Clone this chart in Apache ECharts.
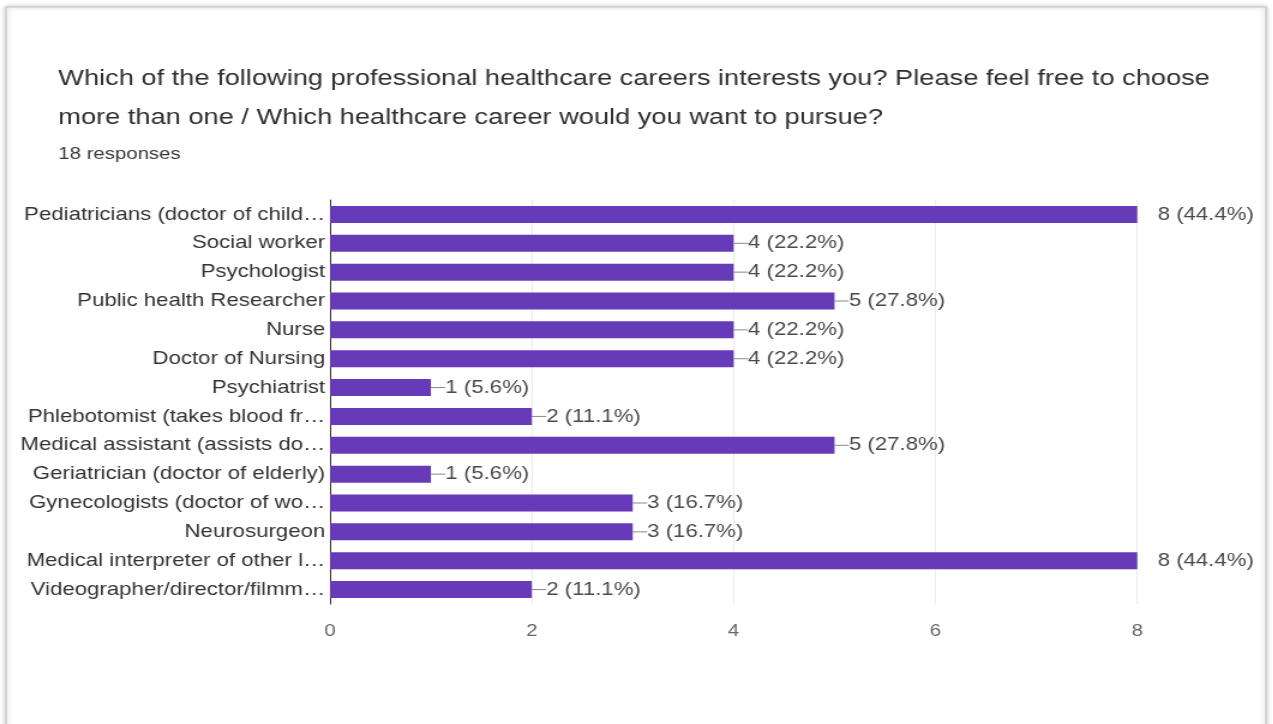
<!DOCTYPE html>
<html>
<head>
<meta charset="utf-8">
<script src="https://cdn.jsdelivr.net/npm/echarts@6/dist/echarts.min.js"></script>
<style>
  html, body { margin: 0; padding: 0; background: #ffffff; overflow: hidden; }
  /* the form card is laid out narrower and widened horizontally */
  #chart { width: 1061px; height: 724px; transform: scaleX(1.2); transform-origin: 0 0; }
</style>
</head>
<body>
<div id="chart"></div>
<script>
// Survey answers, top to bottom as listed on the form
const categories = [
  'Pediatricians (doctor of child\u2026',
  'Social worker',
  'Psychologist',
  'Public health Researcher',
  'Nurse',
  'Doctor of Nursing',
  'Psychiatrist',
  'Phlebotomist (takes blood fr\u2026',
  'Medical assistant (assists do\u2026',
  'Geriatrician (doctor of elderly)',
  'Gynecologists (doctor of wo\u2026',
  'Neurosurgeon',
  'Medical interpreter of other l\u2026',
  'Videographer/director/filmm\u2026'
];
const counts = [8, 4, 4, 5, 4, 4, 1, 2, 5, 1, 3, 3, 8, 2];
const percents = ['44.4', '22.2', '22.2', '27.8', '22.2', '22.2', '5.6', '11.1', '27.8', '5.6', '16.7', '16.7', '44.4', '11.1'];
const responses = 18;
const axisTicks = [0, 2, 4, 6, 8];

const titleText = 'Which of the following professional healthcare careers interests you? Please feel free to choose\nmore than one / Which healthcare career would you want to pursue?';
const subText = responses + ' responses';

const maxCount = Math.max(...counts);
const FONT = "'Liberation Sans', Arial, sans-serif";

// Bars at the axis maximum carry a detached label; the rest get a short leader line
const barData = counts.map((v, i) => {
  const atMax = v === maxCount;
  return {
    value: v,
    label: {
      distance: atMax ? 17 : 0,
      formatter: atMax
        ? v + ' (' + percents[i] + '%)'
        : '{ln|}' + v + ' (' + percents[i] + '%)'
    }
  };
});

const chart = echarts.init(document.getElementById('chart'));
chart.setOption({
  animation: false,
  backgroundColor: '#ffffff',
  graphic: [{
    type: 'rect',
    shape: { x: 5, y: 7, width: 1050, height: 740 },
    style: { fill: '#ffffff', stroke: '#d0d0d0', lineWidth: 1.5,
             shadowColor: 'rgba(0,0,0,0.2)', shadowBlur: 4 },
    z: -10
  }],
  title: {
    text: titleText,
    subtext: subText,
    left: 43.5,
    top: 54,
    itemGap: 9,
    textStyle: {
      fontFamily: FONT,
      fontSize: 22.7,
      fontWeight: 'normal',
      color: '#303030',
      lineHeight: 39
    },
    subtextStyle: {
      fontFamily: FONT,
      fontSize: 17,
      color: '#3a3a3a'
    }
  },
  grid: { left: 275, right: 113.3, top: 200, bottom: 120 },
  xAxis: {
    type: 'value',
    min: axisTicks[0],
    max: axisTicks[axisTicks.length - 1],
    interval: axisTicks[1] - axisTicks[0],
    axisLine: { show: false },
    axisTick: { show: false },
    axisLabel: {
      margin: 19,
      fontFamily: FONT,
      fontSize: 17,
      color: '#666666'
    },
    splitLine: { lineStyle: { color: '#ebebeb', width: 1 } }
  },
  yAxis: {
    type: 'category',
    data: categories,
    inverse: true,
    axisLine: { show: true, lineStyle: { color: '#333333', width: 1 } },
    axisTick: { show: false },
    axisLabel: {
      margin: 4,
      fontFamily: FONT,
      fontSize: 18.5,
      color: '#333333'
    }
  },
  series: [{
    type: 'bar',
    data: barData,
    barWidth: 17,
    itemStyle: { color: '#673ab7' },
    label: {
      show: true,
      position: 'right',
      fontFamily: FONT,
      fontSize: 18.5,
      color: '#4a4a4a',
      rich: {
        ln: { width: 12, height: 1, backgroundColor: '#888888', padding: 0 }
      }
    }
  }]
});
</script>
</body>
</html>
